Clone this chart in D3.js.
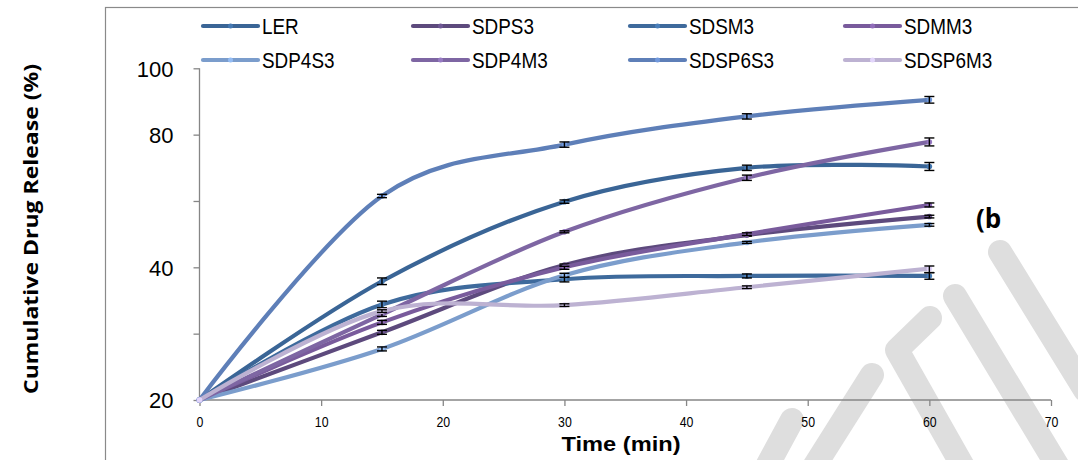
<!DOCTYPE html>
<html>
<head>
<meta charset="utf-8">
<script src="https://cdn.jsdelivr.net/npm/d3@7"></script>
<style>
  html, body { margin: 0; padding: 0; background: #fff; }
  svg { display: block; }
</style>
</head>
<body>
<svg id="chart" width="1078" height="460"></svg>
<script>
// ---- data ----
const times = [0, 15, 30, 45, 60];
const seriesNames = ["LER", "SDPS3", "SDSM3", "SDMM3", "SDP4S3", "SDP4M3", "SDSP6S3", "SDSP6M3"];
const LER      = [20, 37.9, 59.8, 70.0, 70.4];
const SDPS3    = [20, 30.2, 40.7, 49.7, 55.3];
const SDSM3    = [20, 34.4, 38.2, 38.7, 38.7];
const SDMM3    = [20, 31.7, 40.0, 50.0, 58.8];
const SDP4S3   = [20, 27.7, 38.8, 47.5, 52.8];
const SDP4M3   = [20, 32.9, 50.7, 67.0, 77.8];
const SDSP6S3  = [20, 61.5, 77.0, 85.5, 90.5];
const SDSP6M3  = [20, 33.4, 34.3, 37.0, 39.8];
const errLER     = [0, 0.5, 0.5, 0.8, 1.2];
const errSDPS3   = [0, 0.3, 0.3, 0.3, 0.4];
const errSDSM3   = [0, 0.5, 0.4, 0.3, 0.5];
const errSDMM3   = [0, 0.3, 0.3, 0.4, 0.6];
const errSDP4S3  = [0, 0.3, 0.3, 0.3, 0.4];
const errSDP4M3  = [0, 0.3, 0.3, 0.8, 1.2];
const errSDSP6S3 = [0, 0.5, 0.8, 0.8, 1.0];
const errSDSP6M3 = [0, 0.2, 0.2, 0.2, 0.6];
const xTicks = [0, 10, 20, 30, 40, 50, 60, 70];
const yTickValues = [20, 30, 40, 60, 80, 100];
const yTickLabels = ["20", "", "40", "", "80", "100"];
const yBreaks = [20, 40, 80, 100];

// ---- styling ----
const colors = {
  LER: "#3a6596", SDPS3: "#5d4a7d", SDSM3: "#3e6a9c", SDMM3: "#795b9c",
  SDP4S3: "#7b9dcc", SDP4M3: "#7e66a3", SDSP6S3: "#5e7fb8", SDSP6M3: "#bdb2d2"
};
const values = { LER, SDPS3, SDSM3, SDMM3, SDP4S3, SDP4M3, SDSP6S3, SDSP6M3 };
const errors = { LER: errLER, SDPS3: errSDPS3, SDSM3: errSDSM3, SDMM3: errSDMM3,
  SDP4S3: errSDP4S3, SDP4M3: errSDP4M3, SDSP6S3: errSDSP6S3, SDSP6M3: errSDSP6M3 };
const FONT = "Liberation Sans, Arial, sans-serif";

const svg = d3.select("#chart");
const plotLeft = 199.5, plotRight = 1051, plotTop = 68.3, plotBottom = 400;
const H = plotBottom - plotTop;

const x = d3.scaleLinear().domain([0, 70]).range([plotLeft, plotRight]);
const y = d3.scaleLinear().domain(yBreaks)
  .range([plotBottom, plotBottom - 0.4 * H, plotBottom - 0.8 * H, plotTop]);

// outer chart border
svg.append("rect").attr("x", 105.5).attr("y", 7.5).attr("width", 1100).attr("height", 600)
  .attr("fill", "none").attr("stroke", "#8a8a8a").attr("stroke-width", 1.2);

// watermark (decoration)
const wm = svg.append("g").attr("stroke", "#dedede").attr("stroke-width", 24)
  .attr("fill", "none").attr("stroke-linecap", "round").attr("stroke-linejoin", "round");
wm.append("path").attr("d", "M1000,252 L1085,390");
wm.append("path").attr("d", "M955,296 L1060,470");
wm.append("path").attr("d", "M930,318 L897,350 L965,470");
wm.append("path").attr("d", "M872,375 L812,470");
wm.append("path").attr("d", "M792,420 L765,470");

// axes
const axisColor = "#868686";
const yAxis = svg.append("g").attr("transform", `translate(${plotLeft},0)`)
  .call(d3.axisLeft(y).tickValues(yTickValues).tickSize(6).tickPadding(20)
    .tickFormat((d, i) => yTickLabels[i]));
yAxis.select(".domain").attr("stroke", axisColor).attr("stroke-width", 1.3)
  .attr("d", `M0,${plotTop}V${plotBottom}`);
yAxis.selectAll(".tick line").attr("stroke", axisColor).attr("stroke-width", 1.3);
yAxis.selectAll(".tick text").attr("font-family", FONT)
  .attr("font-size", 22).attr("fill", "#000").attr("dy", "0.35em");

const xAxis = svg.append("g").attr("transform", `translate(0,${plotBottom})`)
  .call(d3.axisBottom(x).tickValues(xTicks).tickSize(6).tickPadding(11));
xAxis.select(".domain").attr("stroke", axisColor).attr("stroke-width", 1.3)
  .attr("d", `M${plotLeft},0H${plotRight}`);
xAxis.selectAll(".tick line").attr("stroke", axisColor).attr("stroke-width", 1.3);
xAxis.selectAll(".tick text").attr("font-family", FONT)
  .attr("font-size", 14).attr("fill", "#000")
  .attr("transform", "scale(0.88,1)");

// axis titles
svg.append("text").attr("x", 621).attr("y", 451).attr("text-anchor", "middle")
  .attr("font-family", FONT).attr("font-weight", "bold").attr("font-size", 21)
  .attr("textLength", 119).attr("lengthAdjust", "spacingAndGlyphs").text("Time (min)");
svg.append("text").attr("transform", "translate(38,229) rotate(-90)").attr("text-anchor", "middle")
  .attr("font-family", "Open Sans, sans-serif").attr("font-weight", "bold").attr("font-size", 20)
  .attr("textLength", 330).attr("lengthAdjust", "spacingAndGlyphs")
  .text("Cumulative Drug Release (%)");

svg.append("text").attr("x", 976).attr("y", 228)
  .attr("font-family", "Open Sans, sans-serif").attr("font-weight", "bold").attr("font-size", 26)
  .text("(b");

// lines
const line = d3.line().x((d, i) => x(times[i])).y(d => y(d)).curve(d3.curveCardinal.tension(0));
const series = svg.append("g");
seriesNames.forEach(name => {
  const g = series.append("g");
  g.append("path").datum(values[name]).attr("d", line).attr("fill", "none")
    .attr("stroke", colors[name]).attr("stroke-width", 4.2).attr("stroke-linecap", "round");
  g.selectAll("circle").data(values[name]).join("circle")
    .attr("cx", (d, i) => x(times[i])).attr("cy", d => y(d)).attr("r", 2.8)
    .attr("fill", d3.color(colors[name]).brighter(0.5)).attr("stroke", "none");
  const eb = g.append("g").attr("stroke", "#000").attr("stroke-width", 1.4);
  values[name].forEach((v, i) => {
    const e = errors[name][i];
    if (e <= 0) return;
    const cx = x(times[i]);
    const y1 = y(v + e), y2 = y(v - e);
    eb.append("line").attr("x1", cx).attr("x2", cx).attr("y1", y1).attr("y2", y2);
    eb.append("line").attr("x1", cx - 5).attr("x2", cx + 5).attr("y1", y1).attr("y2", y1);
    eb.append("line").attr("x1", cx - 5).attr("x2", cx + 5).attr("y1", y2).attr("y2", y2);
  });
});

// legend
const legendCols = [203, 413, 630, 845];
const legendRows = [26, 60];
const legend = svg.append("g");
seriesNames.forEach((name, i) => {
  const lx = legendCols[i % 4], ly = legendRows[Math.floor(i / 4)];
  const g = legend.append("g").attr("transform", `translate(${lx},${ly})`);
  g.append("line").attr("x1", 0).attr("x2", 55).attr("y1", 0).attr("y2", 0)
    .attr("stroke", colors[name]).attr("stroke-width", 4.2).attr("stroke-linecap", "round");
  g.append("circle").attr("cx", 27.5).attr("cy", 0).attr("r", 2.5)
    .attr("fill", d3.color(colors[name]).brighter(0.5));
  g.append("text").attr("transform", "translate(59,0) scale(0.86,1)").attr("dy", "0.36em")
    .attr("font-family", FONT).attr("font-size", 22).text(name);
});
</script>
</body>
</html>
